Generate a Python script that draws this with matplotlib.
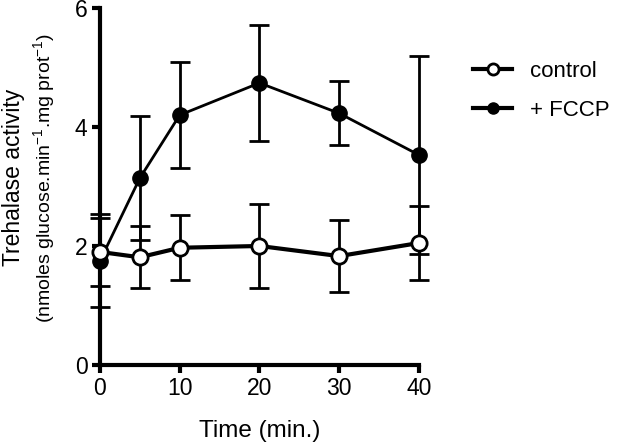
import matplotlib
matplotlib.use("Agg")
import matplotlib.pyplot as plt
from matplotlib.lines import Line2D

# data
time = [0, 5, 10, 20, 30, 40]
control = [1.90, 1.81, 1.97, 2.00, 1.83, 2.05]
control_err = [0.57, 0.52, 0.55, 0.70, 0.60, 0.63]
fccp = [1.75, 3.14, 4.20, 4.74, 4.23, 3.53]
fccp_err = [0.78, 1.04, 0.89, 0.97, 0.54, 1.66]

plt.rcParams['font.family'] = ['Liberation Sans', 'DejaVu Sans']
plt.rcParams['mathtext.default'] = 'regular'

fig = plt.figure(figsize=(6.17, 4.44), dpi=100)
ax = fig.add_axes([0.162, 0.178, 0.517, 0.804])

ax.errorbar(time, fccp, yerr=fccp_err, color='black', lw=2, marker='o',
            ms=11, mfc='black', mec='black', capsize=7, capthick=2,
            elinewidth=2, clip_on=False, zorder=3)
ax.errorbar(time, control, yerr=control_err, color='black', lw=3, marker='o',
            ms=11, mfc='white', mec='black', mew=2, capsize=7, capthick=2,
            elinewidth=2, clip_on=False, zorder=4)

ax.set_xlim(0, 40)
ax.set_ylim(0, 6)
ax.set_xticks([0, 10, 20, 30, 40])
ax.set_yticks([0, 2, 4, 6])
ax.spines['top'].set_visible(False)
ax.spines['right'].set_visible(False)
ax.spines['left'].set_linewidth(3)
ax.spines['bottom'].set_linewidth(3)
ax.tick_params(width=3, length=6, labelsize=16.5, pad=3)

ax.set_xlabel('Time (min.)', fontsize=17.5, labelpad=14)
fig.text(0.022, 0.60, 'Trehalase activity', rotation=90, fontsize=16.5,
         ha='center', va='center')
fig.text(0.071, 0.60, '(nmoles glucose.min$^{-1}$.mg prot$^{-1}$)', rotation=90,
         fontsize=14, ha='center', va='center')

handles = [
    Line2D([], [], color='black', lw=3, marker='o', ms=8, mfc='white',
           mec='black', mew=2),
    Line2D([], [], color='black', lw=3, marker='o', ms=8, mfc='black',
           mec='black'),
]
fig.legend(handles, ['control', '+ FCCP'], loc='upper left',
           bbox_to_anchor=(0.767, 0.862), frameon=False, fontsize=16,
           borderpad=0, borderaxespad=0, handlelength=1.75,
           handletextpad=0.8, labelspacing=0.8)

plt.savefig('out.png', dpi=100)
